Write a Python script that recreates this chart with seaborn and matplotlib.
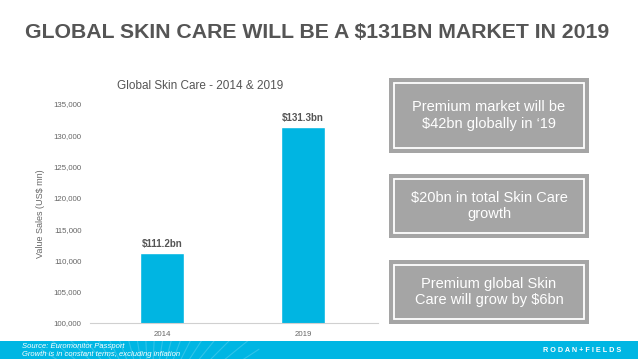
import matplotlib
matplotlib.use("Agg")
import matplotlib.pyplot as plt
import seaborn as sns
import pandas as pd
import numpy as np
from matplotlib.patches import Rectangle
from matplotlib.ticker import FuncFormatter

years = ["2014", "2019"]
values = [111200, 131300]
bar_labels = ["$111.2bn", "$131.3bn"]
callouts = [
    "Premium market will be\n$42bn globally in \u201819",
    "$20bn in total Skin Care\ngrowth",
    "Premium global Skin\nCare will grow by $6bn",
]

sns.set_style("white")
plt.rcParams["font.family"] = ["Liberation Sans", "DejaVu Sans"]

fig = plt.figure(figsize=(6.38, 3.59), dpi=100)
W, H = 638, 359

def fx(x):
    return x / W

def fy(y):
    return 1 - y / H

ax = fig.add_axes([fx(90), fy(323), fx(378) - fx(90), fy(104) - fy(323)])
df = pd.DataFrame({"year": years, "value": values})
sns.barplot(data=df, x="year", y="value", color="#00B5E2", width=0.31,
            saturation=1, ax=ax)
ax.set_xlim(-0.51, 1.53)
ax.set_ylim(100000, 135000)
ax.set_yticks(np.arange(100000, 135001, 5000))
ax.yaxis.set_major_formatter(FuncFormatter(lambda v, p: f"{int(v):,}"))
ax.tick_params(axis="both", labelsize=5.7, colors="#666666", length=0, pad=6)
ax.set_xlabel("")
ax.set_ylabel("Value Sales (US$ mn)", fontsize=6.5, color="#666666", labelpad=6)
for s in ["top", "right", "left"]:
    ax.spines[s].set_visible(False)
ax.spines["bottom"].set_color("#d0d0d0")
ax.spines["bottom"].set_linewidth(0.8)
for i, (v, lab) in enumerate(zip(values, bar_labels)):
    ax.text(i, v + 700, lab, ha="center", va="bottom", fontsize=7,
            fontweight="bold", color="#555555")

fig.text(fx(200), fy(86), "Global Skin Care - 2014 & 2019", ha="center",
         va="center", fontsize=8.5, color="#555555")

fig.text(fx(317), fy(32), "GLOBAL SKIN CARE WILL BE A $131BN MARKET IN 2019",
         ha="center", va="center", fontsize=15.3, fontweight="bold",
         color="#555555")

# callout boxes
boxes = [(78, 153), (174, 238), (260, 324)]
for (y0, y1), txt in zip(boxes, callouts):
    fig.patches.append(Rectangle((fx(389), fy(y1)), fx(589) - fx(389),
                                 fy(y0) - fy(y1), transform=fig.transFigure,
                                 facecolor="#a5a5a5", edgecolor="none"))
    fig.patches.append(Rectangle((fx(394), fy(y1 - 5)), fx(584) - fx(394),
                                 fy(y0 + 5) - fy(y1 - 5),
                                 transform=fig.transFigure,
                                 facecolor="none", edgecolor="white", lw=1.3))
    fig.text(fx(489), fy((y0 + y1) / 2), txt, ha="center", va="center",
             fontsize=10.5, color="white", linespacing=1.2)

# bottom band
band = Rectangle((0, 0), 1, fy(341), transform=fig.transFigure,
                 facecolor="#00B6E3", edgecolor="none")
fig.patches.append(band)
for ang in np.linspace(15, 165, 26):
    cx, cy = 150, 420
    r0, r1 = 40, 130
    a = np.deg2rad(ang)
    x0, y0 = cx + r0 * np.cos(a), cy - r0 * np.sin(a)
    x1, y1 = cx + r1 * np.cos(a), cy - r1 * np.sin(a)
    ln = plt.Line2D([fx(x0), fx(x1)], [fy(y0), fy(y1)],
                    transform=fig.transFigure, color="#5fd0ef",
                    lw=0.8, alpha=0.5)
    ln.set_clip_path(band)
    fig.lines.append(ln)
fig.text(fx(22), fy(346), "Source: Euromonitor Passport", fontsize=5.5,
         style="italic", color="white", va="center")
fig.text(fx(22), fy(354), "Growth is in constant terms, excluding inflation",
         fontsize=5.5, style="italic", color="white", va="center")
fig.text(fx(621), fy(350), "R O D A N + F I E L D S", fontsize=5.2,
         color="white", ha="right", va="center", fontweight="bold")

fig.savefig("out.png", dpi=100)
